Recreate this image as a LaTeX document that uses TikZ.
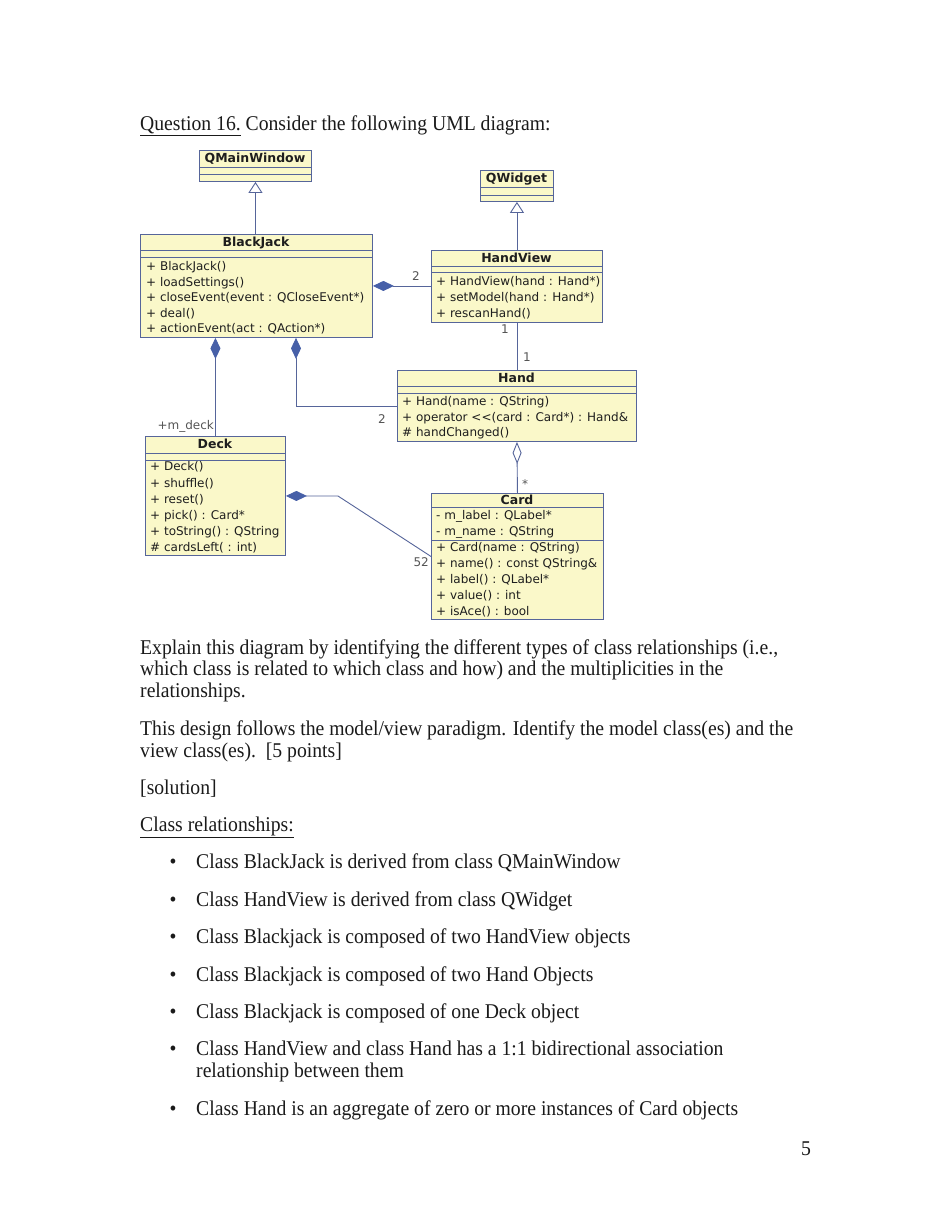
\documentclass[tikz,border=0pt]{standalone}
\usepackage{fontspec}
\setmainfont{Liberation Serif}[FakeStretch=0.937]
\newfontfamily\umlfont{DejaVu Sans}
\usetikzlibrary{arrows.meta}

\definecolor{umlfill}{HTML}{FAF8C9}
\definecolor{umlline}{HTML}{56659A}
\definecolor{umldiamond}{HTML}{4760A8}
\definecolor{umltext}{HTML}{1E1E1E}
\definecolor{umllabel}{HTML}{555555}
\definecolor{bodytext}{HTML}{1A1A1A}

\tikzset{
  classbox/.style={draw=umlline, fill=umlfill, line width=0.9pt, anchor=north west, inner sep=0pt},
  separator/.style={draw=umlline, line width=0.9pt},
  classname/.style={font=\umlfont\bfseries\fontsize{12.5}{14}\selectfont, text=umltext, inner sep=0pt, text height=10pt, text depth=2pt},
  member/.style={font=\umlfont\fontsize{12}{14}\selectfont, text=umltext, anchor=west, inner sep=0pt, text height=10pt, text depth=2pt},
  multlabel/.style={font=\umlfont\fontsize{12}{14}\selectfont, text=umllabel, inner sep=0pt, text height=10pt, text depth=2pt},
  link/.style={draw=umlline, line width=0.9pt},
  inherit/.style={link, -{Triangle[open, length=11pt, width=14pt, fill=white]}},
  compose/.style={link, {Diamond[length=21pt, width=10pt, color=umldiamond, fill=umldiamond]}-},
  aggregate/.style={link, {Diamond[open, length=22pt, width=9pt, fill=white]}-},
  bodyline/.style={font=\fontsize{21}{23}\selectfont, text=bodytext, anchor=base west, inner sep=0pt},
  bulletmark/.style={font=\fontsize{21}{23}\selectfont, text=bodytext, anchor=base, inner sep=0pt},
}

\begin{document}
\begin{tikzpicture}[x=1pt, y=-1pt]
\useasboundingbox (0,0) rectangle (952,1232);
\fill[white] (0,0) rectangle (952,1232);

% ---------- question text ----------
\node[bodyline] (q16) at (140,130) {\underline{Question 16.} Consider the following UML diagram:};

% ---------- class boxes ----------
% QMainWindow
\node[classbox, minimum width=112pt, minimum height=31pt] (qmw) at (199,150) {};
\draw[separator] (199,167) -- (311,167);
\draw[separator] (199,174) -- (311,174);
\node[classname] (qmwT) at (255,158) {QMainWindow};

% QWidget
\node[classbox, minimum width=73pt, minimum height=31pt] (qw) at (480,170) {};
\draw[separator] (480,187) -- (553,187);
\draw[separator] (480,195) -- (553,195);
\node[classname] (qwT) at (516.5,178) {QWidget};

% BlackJack
\node[classbox, minimum width=232pt, minimum height=103pt] (bj) at (140,234) {};
\draw[separator] (140,250) -- (372,250);
\draw[separator] (140,257) -- (372,257);
\node[classname] (bjT) at (256,242) {BlackJack};
\node[member] (bj1) at (146,266.5) {+ BlackJack()};
\node[member] (bj2) at (146,282.1) {+ loadSettings()};
\node[member] (bj3) at (146,297.7) {+ closeEvent(event : QCloseEvent*)};
\node[member] (bj4) at (146,313.3) {+ deal()};
\node[member] (bj5) at (146,328.9) {+ actionEvent(act : QAction*)};

% HandView
\node[classbox, minimum width=171pt, minimum height=72pt] (hv) at (431,250) {};
\draw[separator] (431,266) -- (602,266);
\draw[separator] (431,272) -- (602,272);
\node[classname] (hvT) at (516.5,258) {HandView};
\node[member] (hv1) at (436,281.7) {+ HandView(hand : Hand*)};
\node[member] (hv2) at (436,297.3) {+ setModel(hand : Hand*)};
\node[member] (hv3) at (436,313.3) {+ rescanHand()};

% Hand
\node[classbox, minimum width=239pt, minimum height=71pt] (hand) at (397,370) {};
\draw[separator] (397,386) -- (636,386);
\draw[separator] (397,393) -- (636,393);
\node[classname] (handT) at (516.5,378) {Hand};
\node[member] (hand1) at (402,401.7) {+ Hand(name : QString)};
\node[member] (hand2) at (402,417.3) {+ operator <<(card : Card*) : Hand\&};
\node[member] (hand3) at (402,432.7) {\# handChanged()};

% Deck
\node[classbox, minimum width=140pt, minimum height=119pt] (deck) at (145,436) {};
\draw[separator] (145,453) -- (285,453);
\draw[separator] (145,460) -- (285,460);
\node[classname] (deckT) at (215,444) {Deck};
\node[member] (deck1) at (150,466.7) {+ Deck()};
\node[member] (deck2) at (150,483.3) {+ shuffle()};
\node[member] (deck3) at (150,499.3) {+ reset()};
\node[member] (deck4) at (150,515.3) {+ pick() : Card*};
\node[member] (deck5) at (150,531.3) {+ toString() : QString};
\node[member] (deck6) at (150,547.3) {\# cardsLeft( : int)};

% Card
\node[classbox, minimum width=172pt, minimum height=126pt] (card) at (431,493) {};
\draw[separator] (431,507) -- (603,507);
\draw[separator] (431,540) -- (603,540);
\node[classname] (cardT) at (517,500) {Card};
\node[member] (card1) at (436,515.3) {- m\_label : QLabel*};
\node[member] (card2) at (436,531) {- m\_name : QString};
\node[member] (card3) at (436,547.7) {+ Card(name : QString)};
\node[member] (card4) at (436,563.3) {+ name() : const QString\&};
\node[member] (card5) at (436,579.3) {+ label() : QLabel*};
\node[member] (card6) at (436,595) {+ value() : int};
\node[member] (card7) at (436,611.7) {+ isAce() : bool};

% ---------- relationships ----------
\draw[inherit] (bj.north -| qmw.south) -- (qmw.south);
\draw[inherit] (hv.north -| qw.south) -- (qw.south);
\draw[compose] (bj.east) -- (hv.west |- bj.east);
\draw[compose] ([xshift=156pt]bj.south west) |- (hand.west);
\draw[compose] (bj.south west -| deck.north) -- (deck.north);
\draw[compose] (deck.east) -- ++(52,0) coordinate (deckbend) -- (card.west);
\draw[link] (hv.south) -- (hand.north);
\draw[aggregate] (hand.south) -- (card.north);

% multiplicities and role names
\node[multlabel] (m2a) at (416,276) {2};
\node[multlabel] (m1a) at (505,329) {1};
\node[multlabel] (m1b) at (527,357) {1};
\node[multlabel] (m2b) at (382,419) {2};
\node[multlabel, anchor=east] (mdeck) at (214,425) {+m\_deck};
\node[multlabel] (mstar) at (525,484) {*};
\node[multlabel, anchor=east] (m52) at (429,562) {52};

% ---------- question and answer text ----------
\node[bodyline] (t1) at (140,654) {Explain this diagram by identifying the different types of class relationships (i.e.,};
\node[bodyline] (t2) at (140,675) {which class is related to which class and how) and the multiplicities in the};
\node[bodyline] (t3) at (140,697) {relationships.};
\node[bodyline] (t4) at (140,735) {This design follows the model/view paradigm. Identify the model class(es) and the};
\node[bodyline] (t5) at (140,757) {view class(es).\ \ [5 points]};
\node[bodyline] (t6) at (140,794) {[solution]};
\node[bodyline] (t7) at (140,831) {\underline{Class relationships:}};

\node[bulletmark] (b1) at (173,868) {•};
\node[bodyline] (r1) at (196,868) {Class BlackJack is derived from class QMainWindow};
\node[bulletmark] (b2) at (173,906) {•};
\node[bodyline] (r2) at (196,906) {Class HandView is derived from class QWidget};
\node[bulletmark] (b3) at (173,943) {•};
\node[bodyline] (r3) at (196,943) {Class Blackjack is composed of two HandView objects};
\node[bulletmark] (b4) at (173,981) {•};
\node[bodyline] (r4) at (196,981) {Class Blackjack is composed of two Hand Objects};
\node[bulletmark] (b5) at (173,1018) {•};
\node[bodyline] (r5) at (196,1018) {Class Blackjack is composed of one Deck object};
\node[bulletmark] (b6) at (173,1055) {•};
\node[bodyline] (r6a) at (196,1055) {Class HandView and class Hand has a 1:1 bidirectional association};
\node[bodyline] (r6b) at (196,1077) {relationship between them};
\node[bulletmark] (b7) at (173,1115) {•};
\node[bodyline] (r7) at (196,1115) {Class Hand is an aggregate of zero or more instances of Card objects};

\node[bodyline] (page) at (801,1155) {5};
\end{tikzpicture}
\end{document}
